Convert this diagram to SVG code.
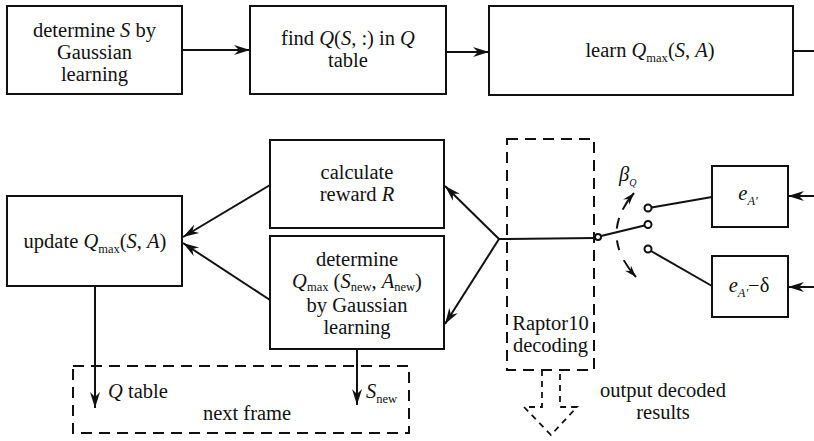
<svg xmlns="http://www.w3.org/2000/svg" width="814" height="441" viewBox="0 0 814 441">
<style>
  .box{fill:#fff;stroke:#111;stroke-width:2}
  .dbox{fill:none;stroke:#111;stroke-width:2;stroke-dasharray:11 7}
  .ln{fill:none;stroke:#111;stroke-width:2}
  .arr{marker-end:url(#ah)}
  text{font-family:"Liberation Serif","Times New Roman",serif;font-size:20.5px;fill:#111}
  .c{text-anchor:middle}
  .i{font-style:italic}
  .sub{font-size:12.5px}
  .cont{fill:#fff;stroke:#111;stroke-width:2}
</style>
<defs>
  <marker id="ah" markerUnits="userSpaceOnUse" markerWidth="17" markerHeight="11" refX="16" refY="5" orient="auto" overflow="visible">
    <path d="M0,0 L16,5 L0,10 L5,5 z" fill="#111"/>
  </marker>
  <marker id="ahs" markerUnits="userSpaceOnUse" markerWidth="13" markerHeight="9" refX="12" refY="4" orient="auto-start-reverse" overflow="visible">
    <path d="M0,0 L12,4 L0,8 L4,4 z" fill="#111"/>
  </marker>
</defs>

<g id="connectors">
  <line class="ln arr" x1="182" y1="50" x2="250" y2="50"/>
  <line class="ln arr" x1="446" y1="52" x2="489" y2="52"/>
  <line class="ln" x1="793" y1="51" x2="814" y2="51"/>
  <line class="ln arr" x1="270" y1="185" x2="183" y2="237"/>
  <line class="ln arr" x1="270" y1="300" x2="183" y2="243"/>
  <line class="ln arr" x1="499" y1="239" x2="445" y2="186"/>
  <line class="ln arr" x1="499" y1="239" x2="445" y2="324"/>
  <line class="ln" x1="499" y1="239" x2="595" y2="238"/>
  <line class="ln" x1="601" y1="236" x2="644.5" y2="225.5"/>
  <line class="ln" x1="651.5" y1="207.5" x2="712" y2="197"/>
  <line class="ln" x1="651" y1="251" x2="712" y2="286"/>
  <line class="ln arr" x1="814" y1="196" x2="788" y2="196"/>
  <line class="ln arr" x1="814" y1="287" x2="788" y2="287"/>
  <line class="ln arr" x1="95" y1="286" x2="95" y2="408"/>
  <line class="ln arr" x1="357" y1="349" x2="357" y2="405"/>
  <path d="M634,193 Q598,235 636,277" fill="none" stroke="#111" stroke-width="2" stroke-dasharray="20 9 11 12 10 11 30" marker-start="url(#ahs)" marker-end="url(#ahs)"/>
  <path d="M542,370 L542,407 L524,407 L551,435 L577,407 L560,407 L560,370" fill="none" stroke="#111" stroke-width="1.8" stroke-dasharray="6 5"/>
</g>

<g id="n1">
  <rect class="box" x="7" y="6" width="175" height="88"/>
  <text class="c" x="94.5" y="37">determine <tspan class="i">S</tspan> by</text>
  <text class="c" x="94.5" y="59">Gaussian</text>
  <text class="c" x="94.5" y="81">learning</text>
</g>
<g id="n2">
  <rect class="box" x="250" y="6" width="196" height="88"/>
  <text class="c" x="348" y="45">find <tspan class="i">Q</tspan>(<tspan class="i">S</tspan>, :) in <tspan class="i">Q</tspan></text>
  <text class="c" x="348" y="67">table</text>
</g>
<g id="n3">
  <rect class="box" x="489" y="6" width="304" height="89"/>
  <text class="c" x="650" y="57">learn <tspan class="i">Q</tspan><tspan class="sub" dy="5">max</tspan><tspan dy="-5">(</tspan><tspan class="i">S</tspan>, <tspan class="i">A</tspan>)</text>
</g>
<g id="n4">
  <rect class="box" x="7" y="196" width="175" height="90"/>
  <text class="c" x="95" y="248">update <tspan class="i">Q</tspan><tspan class="sub" dy="5">max</tspan><tspan dy="-5">(</tspan><tspan class="i">S</tspan>, <tspan class="i">A</tspan>)</text>
</g>
<g id="n5">
  <rect class="box" x="270" y="140" width="174" height="88"/>
  <text class="c" x="357" y="179">calculate</text>
  <text class="c" x="357" y="201">reward <tspan class="i">R</tspan></text>
</g>
<g id="n6">
  <rect class="box" x="270" y="236" width="174" height="113"/>
  <text class="c" x="357" y="266">determine</text>
  <text class="c" x="357" y="288"><tspan class="i">Q</tspan><tspan class="sub" dy="3">max</tspan><tspan dy="-3"> (</tspan><tspan class="i">S</tspan><tspan class="sub" dy="3">new</tspan><tspan dy="-3">, </tspan><tspan class="i">A</tspan><tspan class="sub" dy="3">new</tspan><tspan dy="-3">)</tspan></text>
  <text class="c" x="357" y="312">by Gaussian</text>
  <text class="c" x="357" y="334">learning</text>
</g>
<g id="n7">
  <rect class="dbox" x="507" y="139" width="87" height="231"/>
  <text class="c" x="550.5" y="330">Raptor10</text>
  <text class="c" x="550.5" y="352">decoding</text>
</g>
<g id="switch">
  <circle class="cont" cx="598" cy="237" r="3"/>
  <circle class="cont" cx="648" cy="208" r="3.5"/>
  <circle class="cont" cx="648" cy="224.5" r="3.5"/>
  <circle class="cont" cx="648" cy="249" r="3.5"/>
  <text x="619" y="181" class="i">β<tspan class="i" dy="5" style="font-size:10px">Q</tspan></text>
</g>
<g id="n8">
  <rect class="box" x="712" y="166" width="76" height="61"/>
  <text class="c" x="748" y="200"><tspan class="i">e</tspan><tspan class="sub i" dy="5">A'</tspan></text>
</g>
<g id="n9">
  <rect class="box" x="712" y="256" width="76" height="61"/>
  <text class="c" x="749" y="292"><tspan class="i">e</tspan><tspan class="sub i" dy="5">A'</tspan><tspan dy="-5">−δ</tspan></text>
</g>
<g id="n10">
  <rect class="dbox" x="73" y="366" width="336" height="67"/>
  <text x="108" y="398"><tspan class="i">Q</tspan> table</text>
  <text x="366" y="398"><tspan class="i">S</tspan><tspan class="sub" dy="5">new</tspan></text>
  <text class="c" x="247" y="420">next frame</text>
</g>
<g id="n11">
  <text class="c" x="663" y="397">output decoded</text>
  <text class="c" x="663" y="419">results</text>
</g>
</svg>
